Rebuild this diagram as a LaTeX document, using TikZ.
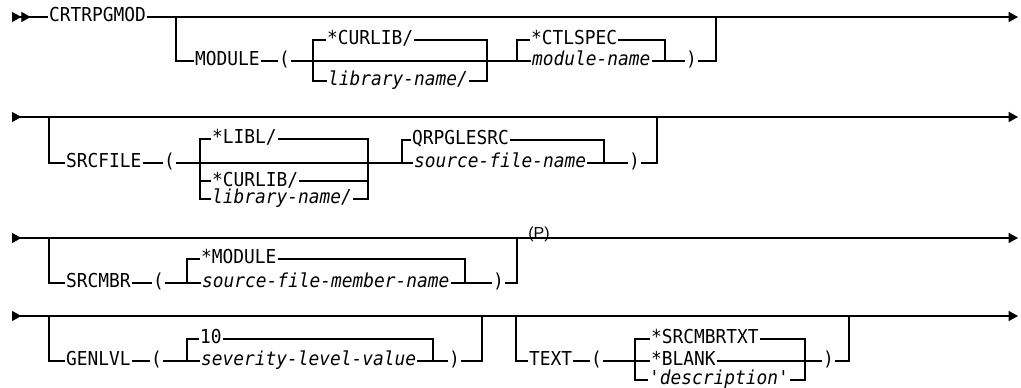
\documentclass[tikz,border=0pt]{standalone}
\usepackage{fontspec}
\usetikzlibrary{arrows.meta}
\newfontfamily\synfont{DejaVu Sans Mono}[FakeStretch=0.93]
\newfontfamily\notefont{Liberation Sans}

\begin{document}
\begin{tikzpicture}[
  x=0.75pt, y=-0.75pt,
  line width=0.9pt,
  font=\synfont\fontsize{14.4}{16}\selectfont,
  kw/.style={anchor=west, inner xsep=0.4pt, inner ysep=0pt, text height=0.9em, text depth=0.17em},
  var/.style={kw, font=\synfont\itshape\fontsize{14.4}{16}\selectfont},
  note/.style={anchor=base, inner sep=0pt, font=\notefont\fontsize{12}{14}\selectfont},
  twoentry/.style={{Triangle[reversed,length=7pt,width=7.5pt]Triangle[reversed,length=7pt,width=7.5pt]}-},
  exit/.style={-{Triangle[length=7pt,width=7.5pt]}},
  through/.style={{Triangle[reversed,length=7pt,width=7.5pt]}-{Triangle[length=7pt,width=7.5pt]}}
]
\useasboundingbox (0,0) rectangle (1021,388);

% Row 1: CRTRPGMOD and MODULE
\coordinate (s1) at (12,17);
\coordinate (e1) at (1018,17);
\coordinate (j1a) at (176,17);
\coordinate (j1b) at (716,17);
\node[kw] (crtrpgmod) at (48,17) {CRTRPGMOD};
\draw[twoentry] (s1) -- (crtrpgmod.west);
\draw[exit] (crtrpgmod.east) -- (e1);

\node[kw] (module) at (194,61) {MODULE};
\node[kw] (open1) at (278,61) {(};
\coordinate (b1l) at (313,61);
\coordinate (b1r) at (487,61);
\node[kw] (curlib1) at (326,40) {*CURLIB/};
\node[var] (libname1) at (327,81) {library-name/};
\coordinate (b2l) at (517,61);
\coordinate (b2r) at (665,61);
\node[kw] (ctlspec) at (530,40) {*CTLSPEC};
\node[var] (modname) at (531,61) {module-name};
\node[kw] (close1) at (685,61) {)};

\draw (j1a) |- (module.west);
\draw (module.east) -- (open1.west);
\draw (open1.east) -- (b1l) -- (b1r) -- (b2l) -- (modname.west);
\draw (curlib1.west) -| (b1l) |- (libname1.west);
\draw (curlib1.east) -| (b1r) |- (libname1.east);
\draw (ctlspec.west) -| (b2l);
\draw (ctlspec.east) -| (b2r);
\draw (modname.east) -- (b2r) -- (close1.west);
\draw (close1.east) -| (j1b);

% Row 2: SRCFILE
\coordinate (s2) at (12,117);
\coordinate (e2) at (1018,117);
\coordinate (j2a) at (49,117);
\coordinate (j2b) at (657,117);
\draw[through] (s2) -- (e2);

\node[kw] (srcfile) at (65,163) {SRCFILE};
\node[kw] (open2) at (163,163) {(};
\coordinate (b3l) at (200,163);
\coordinate (b3r) at (368,163);
\node[kw] (libl) at (211,139) {*LIBL/};
\node[kw, text depth=0.05em] (curlib2) at (211,181) {*CURLIB/};
\node[var] (libname2) at (211,199) {library-name/};
\coordinate (b4l) at (402,163);
\coordinate (b4r) at (604,163);
\node[kw] (qrpglesrc) at (411,140) {QRPGLESRC};
\node[var] (srcfname) at (413,163) {source-file-name};
\node[kw] (close2) at (628,163) {)};

\draw (j2a) |- (srcfile.west);
\draw (srcfile.east) -- (open2.west);
\draw (open2.east) -- (b3l) -- (b3r) -- (b4l) -- (srcfname.west);
\draw (libl.west) -| (b3l) |- (libname2.west);
\draw (libl.east) -| (b3r) |- (libname2.east);
\draw (b3l |- curlib2.west) -- (curlib2.west);
\draw (curlib2.east) -- (b3r |- curlib2.east);
\draw (qrpglesrc.west) -| (b4l);
\draw (qrpglesrc.east) -| (b4r);
\draw (srcfname.east) -- (b4r) -- (close2.west);
\draw (close2.east) -| (j2b);

% Row 3: SRCMBR
\coordinate (s3) at (12,238);
\coordinate (e3) at (1018,238);
\coordinate (j3a) at (49,238);
\coordinate (j3b) at (517,238);
\draw[through] (s3) -- (e3);
\node[note] (pflag) at (539,239) {(P)};

\node[kw] (srcmbr) at (65,283) {SRCMBR};
\node[kw] (open3) at (152,283) {(};
\coordinate (b5l) at (187,283);
\coordinate (b5r) at (465,283);
\node[kw] (dmodule) at (200,259) {*MODULE};
\node[var] (mbrname) at (201,283) {source-file-member-name};
\node[kw] (close3) at (492,283) {)};

\draw (j3a) |- (srcmbr.west);
\draw (srcmbr.east) -- (open3.west);
\draw (open3.east) -- (b5l) -- (mbrname.west);
\draw (dmodule.west) -| (b5l);
\draw (dmodule.east) -| (b5r);
\draw (mbrname.east) -- (b5r) -- (close3.west);
\draw (close3.east) -| (j3b);

% Row 4: GENLVL and TEXT
\coordinate (s4) at (12,316);
\coordinate (e4) at (1018,316);
\coordinate (j4a) at (49,316);
\coordinate (j4b) at (482,316);
\coordinate (j4c) at (516,316);
\coordinate (j4d) at (849,316);
\draw[through] (s4) -- (e4);

\node[kw] (genlvl) at (65,361) {GENLVL};
\node[kw] (open4) at (150,361) {(};
\coordinate (b6l) at (187,361);
\coordinate (b6r) at (433,361);
\node[kw] (ten) at (199,339) {10};
\node[var] (sevlvl) at (200,361) {severity-level-value};
\node[kw] (close4) at (448,361) {)};

\draw (j4a) |- (genlvl.west);
\draw (genlvl.east) -- (open4.west);
\draw (open4.east) -- (b6l) -- (sevlvl.west);
\draw (ten.west) -| (b6l);
\draw (ten.east) -| (b6r);
\draw (sevlvl.east) -- (b6r) -- (close4.west);
\draw (close4.east) -| (j4b);

\node[kw] (text) at (528,361) {TEXT};
\node[kw] (open5) at (590,361) {(};
\coordinate (b7l) at (635,361);
\coordinate (b7r) at (805,361);
\node[kw] (srcmbrtxt) at (650,339) {*SRCMBRTXT};
\node[kw] (blank) at (650,361) {*BLANK};
\node[var, text height=0.78em, text depth=0.05em] (descr) at (648,380) {'description'};
\node[kw] (close5) at (822,361) {)};

\draw (j4c) |- (text.west);
\draw (text.east) -- (open5.west);
\draw (open5.east) -- (b7l) -- (blank.west);
\draw (srcmbrtxt.west) -| (b7l) |- (descr.west);
\draw (srcmbrtxt.east) -| (b7r) |- (descr.east);
\draw (blank.east) -- (b7r) -- (close5.west);
\draw (close5.east) -| (j4d);

\end{tikzpicture}
\end{document}
